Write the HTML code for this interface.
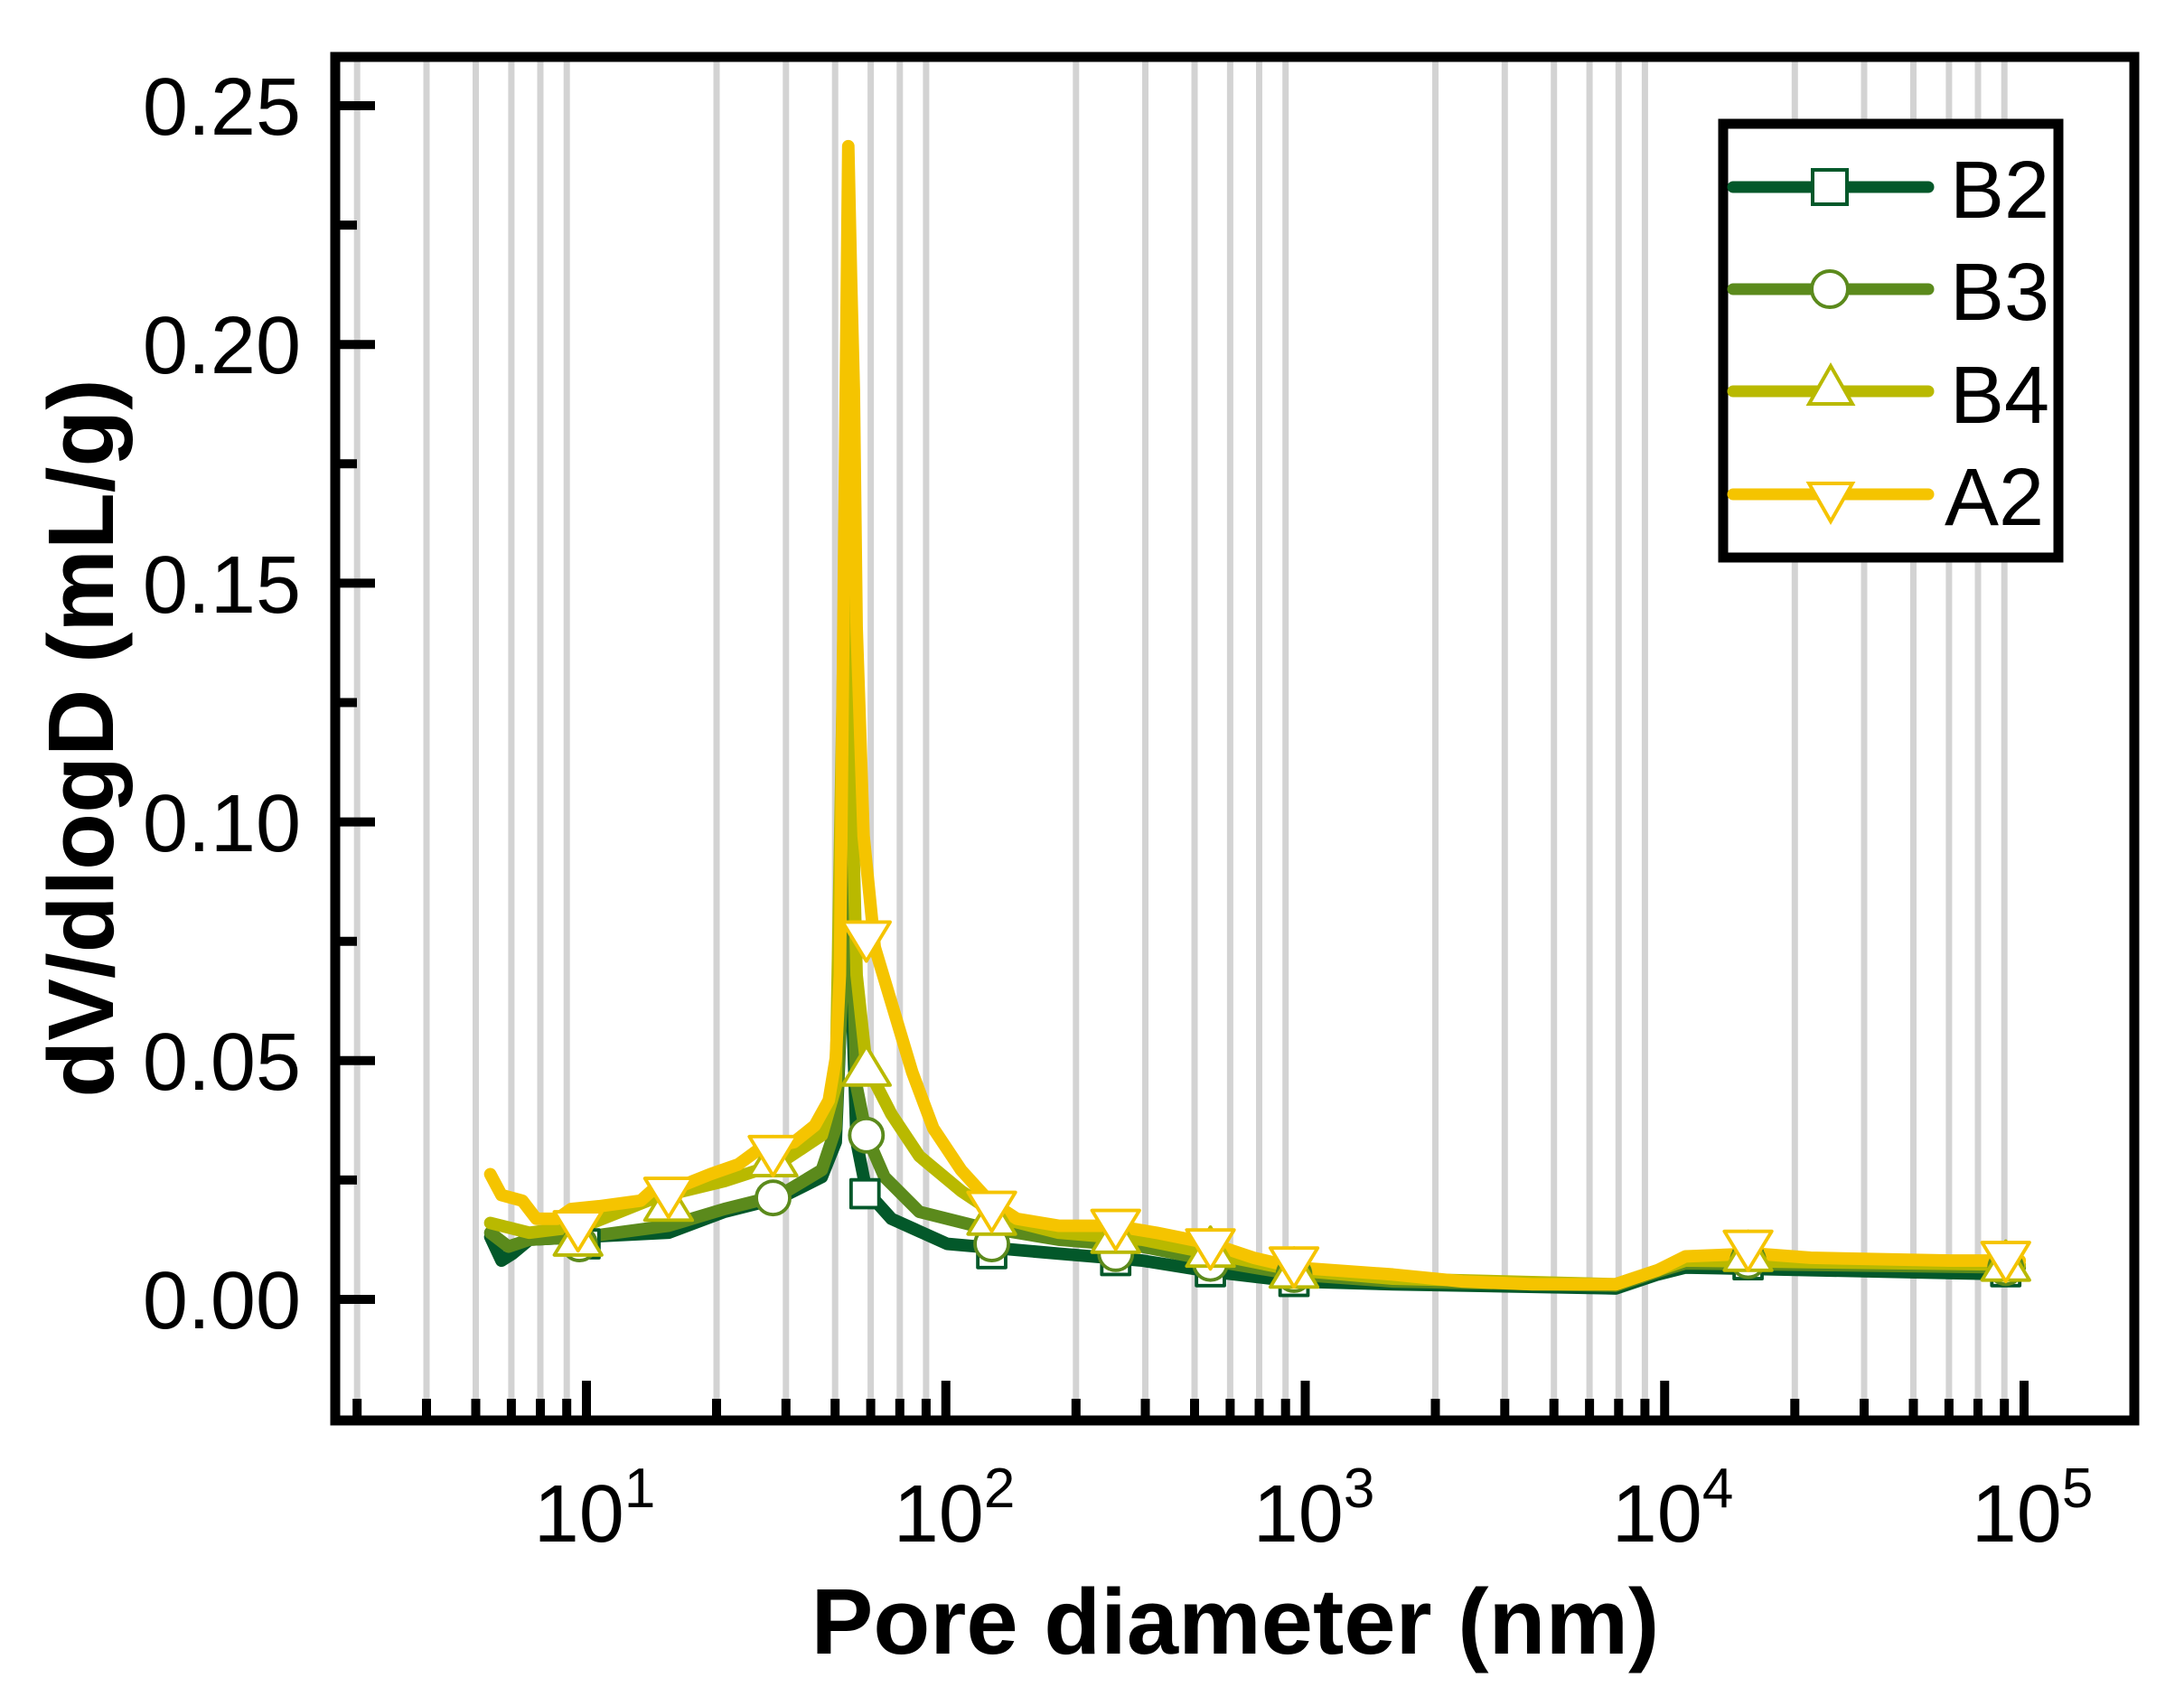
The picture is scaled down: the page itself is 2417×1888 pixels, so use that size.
<!DOCTYPE html>
<html><head><meta charset="utf-8"><style>
html,body{margin:0;padding:0;background:#fff;}
svg{display:block;}
text{font-family:"Liberation Sans",Arial,sans-serif;fill:#000;}
</style></head><body>
<svg width="2417" height="1888" viewBox="0 0 2417 1888" xmlns="http://www.w3.org/2000/svg">
<rect width="2417" height="1888" fill="#fff"/>
<g stroke="#d3d3d3" stroke-width="7">
<path d="M395.2 63V1572M472 63V1572M526.5 63V1572M565.9 63V1572M598 63V1572M627.2 63V1572
M793 63V1572M869.8 63V1572M924.2 63V1572M963.6 63V1572M995.8 63V1572M1024.9 63V1572
M1190.8 63V1572M1267.5 63V1572M1322 63V1572M1361.4 63V1572M1393.5 63V1572M1422.7 63V1572
M1588.5 63V1572M1665.3 63V1572M1719.7 63V1572M1759.1 63V1572M1791.3 63V1572M1820.4 63V1572
M1986.3 63V1572M2063 63V1572M2117.5 63V1572M2156.9 63V1572M2189 63V1572M2218.2 63V1572"/>
</g>
<g stroke="#000" stroke-width="10">
<path d="M371 1438h44M371 1173.8h44M371 909.6h44M371 645.4h44M371 381.2h44M371 117h44"/>
<path d="M371 1305.9h24M371 1041.7h24M371 777.5h24M371 513.3h24M371 249.1h24"/>
<path d="M649 1572v-44M1046.75 1572v-44M1444.5 1572v-44M1842.25 1572v-44M2240 1572v-44"/>
<path d="M395.2 1572v-24M472 1572v-24M526.5 1572v-24M565.9 1572v-24M598 1572v-24M627.2 1572v-24
M793 1572v-24M869.8 1572v-24M924.2 1572v-24M963.6 1572v-24M995.8 1572v-24M1024.9 1572v-24
M1190.8 1572v-24M1267.5 1572v-24M1322 1572v-24M1361.4 1572v-24M1393.5 1572v-24M1422.7 1572v-24
M1588.5 1572v-24M1665.3 1572v-24M1719.7 1572v-24M1759.1 1572v-24M1791.3 1572v-24M1820.4 1572v-24
M1986.3 1572v-24M2063 1572v-24M2117.5 1572v-24M2156.9 1572v-24M2189 1572v-24M2218.2 1572v-24"/>
</g>
<g transform="scale(1.5415)" fill="none" stroke-width="9" stroke-linejoin="round" stroke-linecap="round">
<path stroke="#03582a" d="M352 888L360 905L368 900L380 890L420 888L480 885L520 870L560 860L590 845L600 820L605 700L608 500L611 700L615 820L622 855L640 875L680 893L760 900L820 905L870 913L930 920L1000 922L1160 925L1190 915L1210 910L1450 915"/>
<path stroke="#5b8a1c" d="M352 885L365 895L380 890L420 888L480 880L520 868L560 858L590 840L600 810L605 700L607 600L609 500L611 650L615 780L622 815L635 845L660 870L700 880L760 890L820 895L870 905L930 915L1000 920L1160 923L1190 913L1210 907L1450 910"/>
<path stroke="#b9b900" d="M352 878L380 885L420 880L470 860L520 848L560 835L590 815L600 780L605 500L607 350L610 500L615 700L622 765L640 800L660 830L690 855L720 875L760 885L820 890L870 900L930 912L1000 918L1160 922L1190 912L1210 905L1450 908"/>
<path stroke="#f5c400" d="M352 843L360 858L375 862L385 875L400 875L410 868L430 866L460 862L470 853L490 851L510 843L530 836L545 825L570 820L585 808L595 790L600 760L603 700L605 500L607 300L609 105L611 200L613 280L615 450L620 600L628 680L640 720L655 770L670 810L690 840L710 862L730 875L760 880L800 880L830 885L870 893L900 903L930 910L1000 915L1050 920L1100 922L1160 922L1190 912L1210 902L1260 900L1300 903L1400 905L1450 905"/>
<g fill="#fff" stroke-width="2.5">
<g stroke="#03582a">
<rect x="410" y="883" width="20" height="20"/><rect x="611" y="847" width="20" height="20"/><rect x="702" y="890" width="20" height="20"/><rect x="791" y="895" width="20" height="20"/><rect x="859" y="903" width="20" height="20"/><rect x="919" y="910" width="20" height="20"/><rect x="1245" y="898" width="20" height="20"/><rect x="1430" y="903" width="20" height="20"/>
</g>
<g stroke="#5b8a1c">
<circle cx="416" cy="893" r="12"/><circle cx="555" cy="860" r="12"/><circle cx="622" cy="815" r="12"/><circle cx="712" cy="893" r="12"/><circle cx="801" cy="900" r="12"/><circle cx="869" cy="907" r="12"/><circle cx="929" cy="915" r="12"/><circle cx="1255" cy="905" r="12"/><circle cx="1440" cy="910" r="12"/>
</g>
<g stroke="#b9b900">
<path d="M415 873l-17 28h34zM480 848l-17 28h34zM555 816l-17 28h34zM622 751l-17 28h34zM712 858l-17 28h34zM801 871l-17 28h34zM869 881l-17 28h34zM929 896l-17 28h34zM1255 884l-17 28h34zM1440 891l-17 28h34z"/>
</g>
<g stroke="#f5c400">
<path d="M415 898l-17 -28h34zM480 874l-17 -28h34zM555 844l-17 -28h34zM622 690l-17 -28h34zM712 884l-17 -28h34zM801 897l-17 -28h34zM869 911l-17 -28h34zM929 924l-17 -28h34zM1255 912l-17 -28h34zM1440 920l-17 -28h34z"/>
</g>
</g>
</g>
<rect x="371" y="63" width="1991" height="1509" fill="none" stroke="#000" stroke-width="11"/>
<g font-size="90" text-anchor="end">
<text x="333" y="1470">0.00</text>
<text x="333" y="1206">0.05</text>
<text x="333" y="942">0.10</text>
<text x="333" y="678">0.15</text>
<text x="333" y="413">0.20</text>
<text x="333" y="149">0.25</text>
</g>
<g font-size="90" text-anchor="middle">
<text x="658" y="1706">10<tspan font-size="62" dy="-38">1</tspan></text>
<text x="1056" y="1706">10<tspan font-size="62" dy="-38">2</tspan></text>
<text x="1454" y="1706">10<tspan font-size="62" dy="-38">3</tspan></text>
<text x="1851" y="1706">10<tspan font-size="62" dy="-38">4</tspan></text>
<text x="2249" y="1706">10<tspan font-size="62" dy="-38">5</tspan></text>
</g>
<text x="1367" y="1830" font-size="103" font-weight="bold" text-anchor="middle">Pore diameter (nm)</text>
<text transform="translate(125,817) rotate(-90)" font-size="103" font-weight="bold" text-anchor="middle">dV/dlogD (mL/g)</text>
<rect x="1907" y="137" width="371" height="480" fill="#fff" stroke="#000" stroke-width="11"/>
<g stroke-width="13" stroke-linecap="round">
<path d="M1918 207H2134" stroke="#03582a"/>
<path d="M1918 320H2134" stroke="#5b8a1c"/>
<path d="M1918 433H2134" stroke="#b9b900"/>
<path d="M1918 547H2134" stroke="#f5c400"/>
</g>
<g fill="#fff" stroke-width="4">
<rect x="2006" y="188" width="38" height="38" stroke="#03582a"/>
<circle cx="2025" cy="320" r="20" stroke="#5b8a1c"/>
<path d="M2026 405l-24 42h48z" stroke="#b9b900"/>
<path d="M2026 577l-24 -42h48z" stroke="#f5c400"/>
</g>
<g font-size="90">
<text x="2158" y="241">B2</text>
<text x="2158" y="354">B3</text>
<text x="2158" y="468">B4</text>
<text x="2152" y="581">A2</text>
</g>
</svg>
</body></html>
